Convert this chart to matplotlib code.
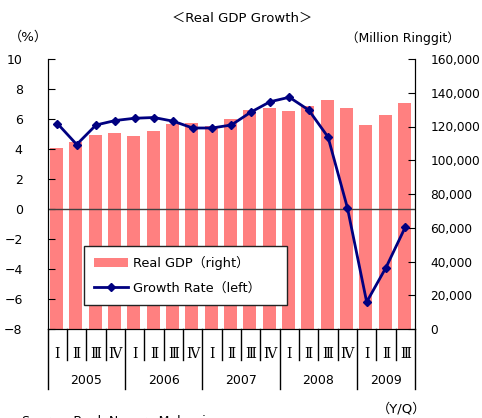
import matplotlib

matplotlib.use("Agg")
import matplotlib.pyplot as plt
import matplotlib.transforms as mtransforms
import numpy as np

plt.rcParams["font.family"] = ["DejaVu Sans", "Noto Sans CJK JP"]

years = ["2005", "2006", "2007", "2008", "2009"]
quarters = ["Ⅰ", "Ⅱ", "Ⅲ", "Ⅳ"] * 4 + ["Ⅰ", "Ⅱ", "Ⅲ"]
# Real GDP, million ringgit (right axis)
gdp = [107300, 110800, 115000, 116200, 114400, 117300, 121500, 122100, 120300, 124400,
       129800, 131000, 129200, 132200, 135700, 131000, 120900, 126800, 133900]
# Growth rate, % (left axis)
growth = [5.7, 4.3, 5.6, 5.9, 6.05, 6.1, 5.85, 5.4, 5.4, 5.6,
          6.45, 7.15, 7.45, 6.6, 4.8, 0.1, -6.2, -3.9, -1.2]

W, H = 482, 418
fig = plt.figure(figsize=(W / 100, H / 100), dpi=100)
x0, x1, y0, y1 = 47.7, 415, 59, 329
ax2 = fig.add_axes([x0 / W, 1 - y1 / H, (x1 - x0) / W, (y1 - y0) / H])
ax = ax2.twinx()
# keep left axis (growth) on the left, bars on the right axis
ax.yaxis.tick_left()
ax2.yaxis.tick_right()

x = np.arange(len(gdp))
bars = ax2.bar(x - 0.05, gdp, width=0.67, color="#FF8080", zorder=1)
ax2.set_ylim(0, 160000)
ax2.set_yticks(np.arange(0, 160001, 20000))
ax2.set_yticklabels([f"{v:,}" for v in range(0, 160001, 20000)])
ax2.set_xlim(-0.5, len(gdp) - 0.5)

ax.axhline(0, color="#404040", lw=1, zorder=2)
line, = ax.plot(x, growth, color="#000080", lw=2, marker="D", markersize=4.5, zorder=3)
ax.set_ylim(-8, 10)
ax.set_yticks(range(-8, 11, 2))
ax.set_yticklabels([str(v).replace("-", "−") for v in range(-8, 11, 2)])

for a in (ax, ax2):
    a.spines["top"].set_visible(False)
    a.set_xticks([])
ax.tick_params(axis="y", direction="in", length=5, pad=18, labelsize=9)
ax2.tick_params(axis="y", direction="in", length=5, pad=11, labelsize=8.7)

leg = ax.legend([bars, line], ["Real GDP（right）", "Growth Rate（left）"],
                loc="lower left", bbox_to_anchor=(0.0985, 0.089, 0.553, 0.211),
                mode="expand", fancybox=False, edgecolor="#222222", framealpha=1,
                fontsize=9.3, handlelength=2.6, handletextpad=0.4, borderpad=0.8,
                labelspacing=0.9, borderaxespad=0)
leg.get_frame().set_linewidth(1)

# category axis below the plot
trans = mtransforms.blended_transform_factory(ax2.transData, ax2.transAxes)
px = 1 / (y1 - y0)
for i in range(len(gdp) + 1):
    b = i - 0.5
    year_edge = i % 4 == 0 or i == len(gdp)
    depth = (389 - y1) if year_edge else (360 - y1)
    ax2.plot([b, b], [0, -depth * px], color="black", lw=1, transform=trans, clip_on=False)
for i, q in enumerate(quarters):
    ax2.text(i, -(354 - y1) * px, q, transform=trans, ha="center", va="center",
             fontsize=10, family=["DejaVu Serif", "Noto Sans CJK JP"])
for k, yr in enumerate(years):
    start = 4 * k
    end = min(4 * k + 3, len(gdp) - 1)
    ax2.text((start + end) / 2, -(381 - y1) * px, yr, transform=trans,
             ha="center", va="center", fontsize=9)

fig.text(242 / W, 1 - 18 / H, "＜Real GDP Growth＞", ha="center", va="center", fontsize=9.5)
fig.text(28 / W, 1 - 37 / H, "（%）", ha="center", va="center", fontsize=9.5)
fig.text(403 / W, 1 - 38 / H, "（Million Ringgit）", ha="center", va="center", fontsize=9)
fig.text(402 / W, 1 - 409 / H, "（Y/Q）", ha="center", va="center", fontsize=9.5)
fig.text(22 / W, 1 - 415 / H, "Source: Bank Negara Malaysia", ha="left", va="top", fontsize=9)

fig.savefig("out.png", dpi=100)
